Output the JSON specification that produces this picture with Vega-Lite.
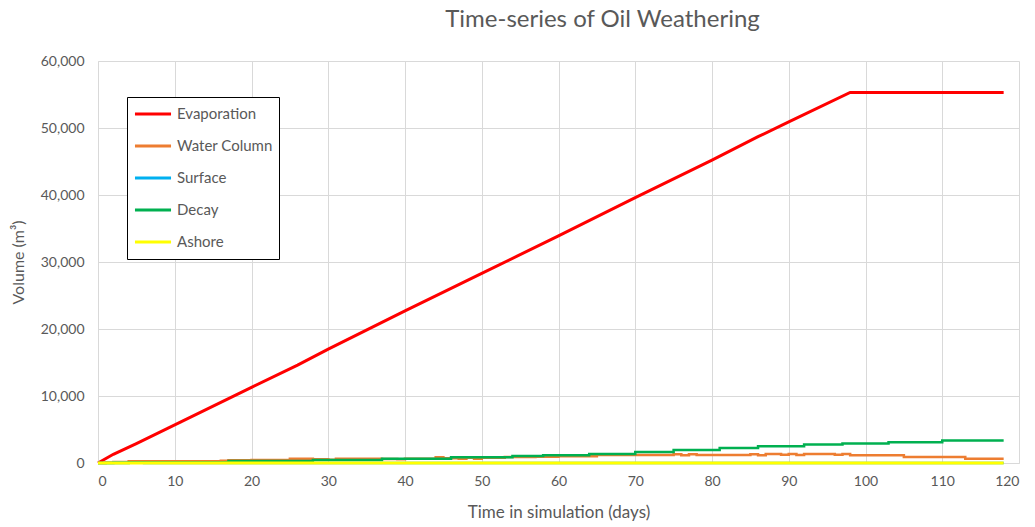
{
  "$schema": "https://vega.github.io/schema/vega-lite/v6.json",
  "width": 921,
  "height": 402,
  "autosize": "none",
  "padding": {"left": 98, "top": 61, "right": 16, "bottom": 64},
  "background": "white",
  "title": {"text": "Time-series of Oil Weathering", "anchor": "middle", "dx": 44, "offset": 22, "fontSize": 24, "fontWeight": "normal", "color": "#595959", "font": "Lato"},
  "config": {
    "view": {"stroke": null},
    "axis": {"domainColor": "#d9d9d9", "gridColor": "#d9d9d9", "ticks": false, "labelColor": "#595959", "labelFont": "Lato", "labelFontSize": 14, "titleFont": "Lato", "titleColor": "#595959", "titleFontWeight": "normal", "titleFontSize": 16},
    "legend": {"labelFont": "Lato", "labelFontSize": 15, "labelColor": "#595959"}
  },
  "data": {"values": [
    {"day": 0, "v": 0, "series": "Evaporation"},
    {"day": 2, "v": 1300, "series": "Evaporation"},
    {"day": 5, "v": 2900, "series": "Evaporation"},
    {"day": 10, "v": 5700, "series": "Evaporation"},
    {"day": 20, "v": 11300, "series": "Evaporation"},
    {"day": 26, "v": 14600, "series": "Evaporation"},
    {"day": 30, "v": 17000, "series": "Evaporation"},
    {"day": 40, "v": 22700, "series": "Evaporation"},
    {"day": 50, "v": 28300, "series": "Evaporation"},
    {"day": 60, "v": 33900, "series": "Evaporation"},
    {"day": 70, "v": 39600, "series": "Evaporation"},
    {"day": 80, "v": 45200, "series": "Evaporation"},
    {"day": 86, "v": 48700, "series": "Evaporation"},
    {"day": 90, "v": 50900, "series": "Evaporation"},
    {"day": 98, "v": 55300, "series": "Evaporation"},
    {"day": 118, "v": 55300, "series": "Evaporation"},

    {"day": 0, "v": 0, "series": "Water Column"},
    {"day": 1, "v": 80, "series": "Water Column"},
    {"day": 2, "v": 150, "series": "Water Column"},
    {"day": 4, "v": 250, "series": "Water Column"},
    {"day": 16, "v": 350, "series": "Water Column"},
    {"day": 17, "v": 420, "series": "Water Column"},
    {"day": 20, "v": 430, "series": "Water Column"},
    {"day": 25, "v": 650, "series": "Water Column"},
    {"day": 28, "v": 550, "series": "Water Column"},
    {"day": 30, "v": 500, "series": "Water Column"},
    {"day": 31, "v": 650, "series": "Water Column"},
    {"day": 37, "v": 600, "series": "Water Column"},
    {"day": 39, "v": 550, "series": "Water Column"},
    {"day": 40, "v": 650, "series": "Water Column"},
    {"day": 44, "v": 850, "series": "Water Column"},
    {"day": 45, "v": 700, "series": "Water Column"},
    {"day": 47, "v": 650, "series": "Water Column"},
    {"day": 48, "v": 800, "series": "Water Column"},
    {"day": 49, "v": 650, "series": "Water Column"},
    {"day": 50, "v": 800, "series": "Water Column"},
    {"day": 53, "v": 900, "series": "Water Column"},
    {"day": 57, "v": 950, "series": "Water Column"},
    {"day": 60, "v": 1000, "series": "Water Column"},
    {"day": 65, "v": 1200, "series": "Water Column"},
    {"day": 75, "v": 1300, "series": "Water Column"},
    {"day": 76, "v": 1150, "series": "Water Column"},
    {"day": 77, "v": 1300, "series": "Water Column"},
    {"day": 78, "v": 1200, "series": "Water Column"},
    {"day": 85, "v": 1300, "series": "Water Column"},
    {"day": 86, "v": 1150, "series": "Water Column"},
    {"day": 87, "v": 1350, "series": "Water Column"},
    {"day": 89, "v": 1250, "series": "Water Column"},
    {"day": 90, "v": 1350, "series": "Water Column"},
    {"day": 91, "v": 1200, "series": "Water Column"},
    {"day": 92, "v": 1350, "series": "Water Column"},
    {"day": 96, "v": 1250, "series": "Water Column"},
    {"day": 97, "v": 1350, "series": "Water Column"},
    {"day": 98, "v": 1150, "series": "Water Column"},
    {"day": 105, "v": 900, "series": "Water Column"},
    {"day": 113, "v": 650, "series": "Water Column"},
    {"day": 118, "v": 650, "series": "Water Column"},

    {"day": 0, "v": 0, "series": "Surface"},
    {"day": 2, "v": 80, "series": "Surface"},
    {"day": 4, "v": 40, "series": "Surface"},
    {"day": 6, "v": 0, "series": "Surface"},
    {"day": 118, "v": 0, "series": "Surface"},

    {"day": 0, "v": 0, "series": "Decay"},
    {"day": 4, "v": 60, "series": "Decay"},
    {"day": 17, "v": 300, "series": "Decay"},
    {"day": 28, "v": 450, "series": "Decay"},
    {"day": 37, "v": 650, "series": "Decay"},
    {"day": 46, "v": 850, "series": "Decay"},
    {"day": 54, "v": 1050, "series": "Decay"},
    {"day": 58, "v": 1150, "series": "Decay"},
    {"day": 64, "v": 1350, "series": "Decay"},
    {"day": 70, "v": 1650, "series": "Decay"},
    {"day": 75, "v": 1950, "series": "Decay"},
    {"day": 81, "v": 2250, "series": "Decay"},
    {"day": 86, "v": 2500, "series": "Decay"},
    {"day": 92, "v": 2750, "series": "Decay"},
    {"day": 97, "v": 2900, "series": "Decay"},
    {"day": 103, "v": 3100, "series": "Decay"},
    {"day": 110, "v": 3350, "series": "Decay"},
    {"day": 118, "v": 3350, "series": "Decay"},

    {"day": 0, "v": 0, "series": "Ashore"},
    {"day": 60, "v": 0, "series": "Ashore"},
    {"day": 118, "v": 0, "series": "Ashore"}
  ]},
  "encoding": {
    "x": {"field": "day", "type": "quantitative", "scale": {"domain": [0, 120], "nice": false}, "axis": {"values": [0,10,20,30,40,50,60,70,80,90,100,110,120], "title": "Time in simulation (days)", "labelPadding": 11, "titlePadding": 16, "titleFontSize": 17}},
    "y": {"field": "v", "type": "quantitative", "scale": {"domain": [0, 60000], "nice": false}, "axis": {"values": [0,10000,20000,30000,40000,50000,60000], "format": ",.0f", "title": "Volume (m³)", "labelPadding": 14, "titlePadding": 14, "titleFontSize": 16}},
    "color": {"field": "series", "type": "nominal", "scale": {"domain": ["Evaporation", "Water Column", "Surface", "Decay", "Ashore"], "range": ["#ff0000", "#ed7d31", "#00b0f0", "#00b050", "#ffff00"]},
      "legend": {"title": null, "orient": "none", "legendX": 29, "legendY": 36, "symbolType": "stroke", "symbolSize": 1300, "symbolStrokeWidth": 3, "clipHeight": 22, "rowPadding": 10, "padding": 6, "strokeColor": "#000000", "fillColor": "white", "labelOffset": 4, "cornerRadius": 0}}
  },
  "layer": [
    {"transform": [{"filter": "datum.series === 'Evaporation'"}], "mark": {"type": "line", "strokeWidth": 3}},
    {"transform": [{"filter": "datum.series === 'Water Column' || datum.series === 'Surface' || datum.series === 'Decay'"}], "mark": {"type": "line", "strokeWidth": 2.5, "interpolate": "step-after"}},
    {"transform": [{"filter": "datum.series === 'Ashore'"}], "mark": {"type": "line", "strokeWidth": 3}}
  ]
}
